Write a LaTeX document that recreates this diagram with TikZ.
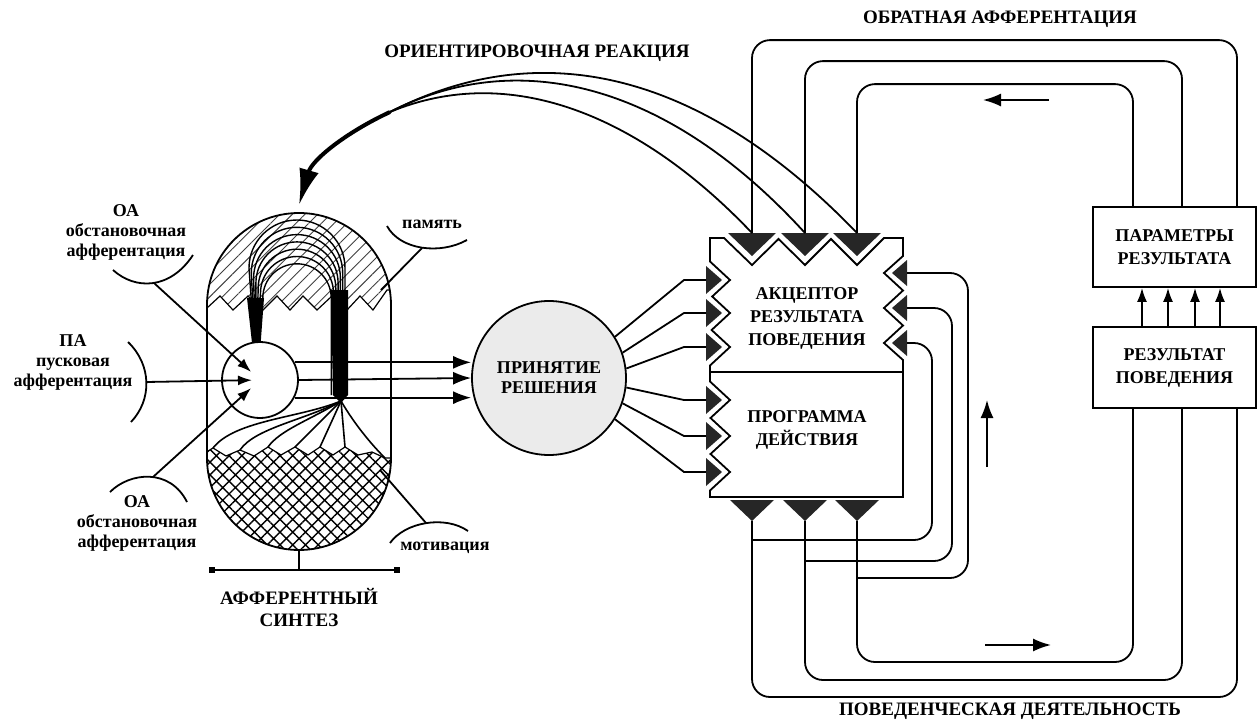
\documentclass[tikz,border=0pt]{standalone}
\usepackage{fontspec}
\setmainfont{Liberation Serif}
\usetikzlibrary{arrows.meta,patterns.meta}
\tikzset{%
  >={Latex[length=9pt,width=6.5pt]},
  % Styles for the texts and blocks:
          tag/.style = {align=center, inner sep=1pt,
                        font=\bfseries\fontsize{9}{10}\selectfont},
      heading/.style = {inner sep=1pt, font=\bfseries\fontsize{9.5}{11}\selectfont},
          box/.style = {rectangle, draw, minimum width=81.5pt, minimum height=40pt,
                        inner sep=0pt, align=center,
                        font=\bfseries\fontsize{9}{11.5}\selectfont},
  % Styles for the lines:
         fine/.style = {line width=0.6pt},
         bent/.style = {rounded corners=9pt},
          tip/.style = {-{Latex[length=7pt,width=5pt]}},
          tri/.style = {fill=black!85},
}

\begin{document}
\begin{tikzpicture}[x=0.5pt, y=-0.5pt, line width=0.9pt]
  \useasboundingbox (0,0) rectangle (1260,723);

  % --- afferent synthesis: memory and motivation areas
  \begin{scope}
    \clip[rounded corners=46pt] (207,213) rectangle (391,550);
    \draw[fine, pattern={Lines[angle=45,distance=4.5pt,line width=0.45pt]},
          pattern color=black!75]
      (200,205) -- (400,205) -- (400,290) -- (387,290) -- (373,310) -- (360,296)
      -- (347,310) -- (332,296) -- (317,310) -- (303,296) -- (290,310) -- (277,296)
      -- (263,310) -- (248,296) -- (233,310) -- (220,296) -- (207,308) -- (200,308) -- cycle;
    \draw[fine, pattern={Hatch[angle=45,distance=4.5pt,line width=0.7pt]}]
      (200,456) -- (213,448) -- (226,456) -- (240,450) -- (254,456) -- (268,447)
      -- (281,455) -- (295,447) -- (308,455) -- (320,447) -- (333,455) -- (345,447)
      -- (358,455) -- (372,452) -- (385,458) -- (400,458) -- (400,560) -- (200,560) -- cycle;
  \end{scope}

  % memory arcs
  \foreach \i in {0,...,6} {
    \pgfmathsetmacro\r{48-2.3*\i}
    \pgfmathsetmacro\cy{268+5*\i}
    \draw[line width=0.7pt] (256,366) -- (297-\r,\cy)
      arc[start angle=180,end angle=360,radius=\r] -- (297+\r,395);
  }
  \fill (247,298) -- (264,298) -- (260,352) -- (266,352) -- (257,372) -- (248,352)
    -- (253,352) -- cycle;
  \fill (331,290) -- (348,290) -- (348,395) -- (341,403) -- (333,395) -- cycle;

  % fan towards the motivation
  \draw[line width=0.8pt] (341,401) .. controls (300,418) and (235,420) .. (213,448);
  \draw[line width=0.8pt] (341,401) .. controls (305,420) and (255,428) .. (240,450);
  \draw[line width=0.8pt] (341,401) .. controls (310,420) and (280,430) .. (268,447);
  \draw[line width=0.8pt] (341,401) -- (295,447);
  \draw[line width=0.8pt] (341,401) -- (320,447);
  \draw[line width=0.8pt] (341,401) -- (345,447);
  \draw[line width=0.8pt] (341,401) .. controls (355,425) and (372,445) .. (385,458);

  \node[draw, rounded corners=46pt, minimum width=92pt, minimum height=168.5pt,
        inner sep=0pt, outer sep=0pt] (synth) at (299,381.5) {};
  \node[circle, draw, fill=white, minimum size=38pt, inner sep=0pt] (conv) at (260,380) {};

  % --- inputs of the afferent synthesis
  \node[tag] (oaTop) at (126,232) {ОА\\обстановочная\\афферентация};
  \node[tag] (pa)    at (73,362)  {ПА\\пусковая\\афферентация};
  \node[tag] (oaBot) at (137,523) {ОА\\обстановочная\\афферентация};
  \node[tag] (memory)     at (432,224) {память};
  \node[tag] (motivation) at (445,548) {мотивация};

  \draw (113,270) .. controls (135,290) and (170,290) .. (193,255);
  \draw (128,342) .. controls (152,365) and (152,400) .. (131,422);
  \draw (110,492) .. controls (130,472) and (170,468) .. (187,502);
  \draw (387,226) .. controls (400,250) and (440,255) .. (467,240);
  \draw (390,543) .. controls (405,522) and (445,515) .. (468,531);
  \coordinate (oa1) at (154,283);
  \coordinate (pa1) at (146,382);
  \coordinate (oa2) at (153,477);
  \coordinate (mem) at (422,248);
  \coordinate (mot) at (426,523);
  \coordinate (memin) at (381,290);
  \coordinate (motin) at (380,470);

  \draw[tip, shorten >=6pt] (oa1) -- (conv.center);
  \draw[tip, shorten >=4pt] (pa1) -- (conv.center);
  \draw[tip, shorten >=6pt] (oa2) -- (conv.center);
  \draw (mem) -- (memin);
  \draw (mot) -- (motin);

  % synthesis bracket
  \draw (212,570) -- (397,570);
  \fill (209,567) rectangle (215,573);
  \fill (394,567) rectangle (400,573);
  \coordinate (synbar) at (299,570);
  \draw (synth.south) -- (synbar);
  \node[tag, font=\bfseries\fontsize{9.5}{11}\selectfont] (synthlabel) at (299,607)
    {АФФЕРЕНТНЫЙ\\СИНТЕЗ};

  % --- decision
  \node[tag, circle, draw, fill=black!8, minimum size=77pt, inner sep=0pt]
    (decision) at (549,378) {ПРИНЯТИЕ\\РЕШЕНИЯ};
  \draw[->] (conv.27)  -- (conv.27 -| decision.west);
  \draw[->] (conv.east) -- (decision.west);
  \draw[->] (conv.-27) -- (conv.-27 -| decision.west);

  % --- acceptor of the result and program of action
  \draw (710,238) -- (724,238) -- (752,265) -- (778.5,239) -- (805,265) -- (831,239)
    -- (857,265) -- (884,238) -- (903,238)
    -- (903,256) -- (884,273) -- (903,290.5) -- (884,308) -- (903,325.5) -- (884,343)
    -- (903,360) -- (903,497) -- (710,497)
    -- (710,490.5) -- (730,472) -- (710.5,454) -- (730,436) -- (710.5,418) -- (730,400)
    -- (710,381.5) -- (710,365.5) -- (730,347) -- (711.6,330) -- (730,313)
    -- (712.2,296.5) -- (730,280) -- (710,261.5) -- cycle;
  \draw (710,372) -- (903,372);
  \node[box, draw=none] (accept)  at (807,318) {АКЦЕПТОР\\РЕЗУЛЬТАТА\\ПОВЕДЕНИЯ};
  \node[box, draw=none] (program) at (807,430) {ПРОГРАММА\\ДЕЙСТВИЯ};

  \foreach \c [count=\n] in {752,805,857} {
    \fill[tri] (\c-24,233) -- (\c+24,233) -- (\c,256) -- cycle;
    \coordinate (inT\n) at (\c,233);
    \fill[tri] (\c-22,500) -- (\c+22,500) -- (\c,521) -- cycle;
    \coordinate (out\n) at (\c,521);
  }
  \foreach \c [count=\n] in {280,313,347,400,436,472} {
    \fill[tri] (706,\c-14) -- (706,\c+14) -- (722,\c) -- cycle;
    \coordinate (inL\n) at (706,\c);
  }
  \foreach \c [count=\n] in {273,308,343} {
    \fill[tri] (907,\c-13) -- (907,\c+13) -- (892,\c) -- cycle;
    \coordinate (inR\n) at (907,\c);
  }

  \draw (decision.32)  -- ([xshift=-11pt]inL1) -- (inL1);
  \draw (decision.19)  -- ([xshift=-11pt]inL2) -- (inL2);
  \draw (decision.7)   -- ([xshift=-11pt]inL3) -- (inL3);
  \draw (decision.-7)  -- ([xshift=-11pt]inL4) -- (inL4);
  \draw (decision.-19) -- ([xshift=-11pt]inL5) -- (inL5);
  \draw (decision.-32) -- ([xshift=-11pt]inL6) -- (inL6);

  % --- orienting reaction
  \coordinate (merge) at (390,112);
  \draw (inT3) .. controls (700,70) and (540,35) .. (merge);
  \draw (inT2) .. controls (670,85) and (520,45) .. (merge);
  \draw (inT1) .. controls (640,115) and (510,62) .. (merge);
  \draw[line width=2pt, -{Latex[length=18pt,width=10pt]}]
    (merge) .. controls (345,133) and (312,160) .. ([yshift=4pt]synth.north);
  \node[heading] (orient) at (537,53) {ОРИЕНТИРОВОЧНАЯ РЕАКЦИЯ};

  % --- result and its parameters
  \node[box] (params) at (1174.5,247)   {ПАРАМЕТРЫ\\РЕЗУЛЬТАТА};
  \node[box, minimum height=40.5pt] (result) at (1174.5,367.5) {РЕЗУЛЬТАТ\\ПОВЕДЕНИЯ};
  \foreach \s in {-16.25,-3.25,10.25,22.75}
    \draw[tip] ([xshift=\s pt]result.north) -- ([xshift=\s pt]params.south);

  % back afferentation
  \draw[bent] ([xshift=31.25pt]params.north) -- ++(0,-166) -| (inT1);
  \draw[bent] ([xshift=3.75pt]params.north)  -- ++(0,-145) -| (inT2);
  \draw[bent] ([xshift=-20.75pt]params.north) -- ++(0,-122) -| (inT3);
  \draw[->] (1049,100) -- (983,100);
  \node[heading] (backaff) at (1000,19) {ОБРАТНАЯ АФФЕРЕНТАЦИЯ};

  % behaviour
  \draw[bent] (out1) -- ++(0,176) -| ([xshift=31.25pt]result.south);
  \draw[bent] (out2) -- ++(0,159) -| ([xshift=3.75pt]result.south);
  \draw[bent] (out3) -- ++(0,141) -| ([xshift=-20.75pt]result.south);
  \draw[bent] ([yshift=-9.5pt]out1) -- ++(180,0) |- (inR3);
  \draw[bent] ([yshift=-20pt]out2)  -- ++(147,0) |- (inR2);
  \draw[bent] ([yshift=-28.5pt]out3) -- ++(111,0) |- (inR1);
  \draw[->] (987,467) -- (987,400);
  \draw[->] (985,645) -- (1051,645);
  \node[heading] (behav) at (1010,711) {ПОВЕДЕНЧЕСКАЯ ДЕЯТЕЛЬНОСТЬ};
\end{tikzpicture}
\end{document}
